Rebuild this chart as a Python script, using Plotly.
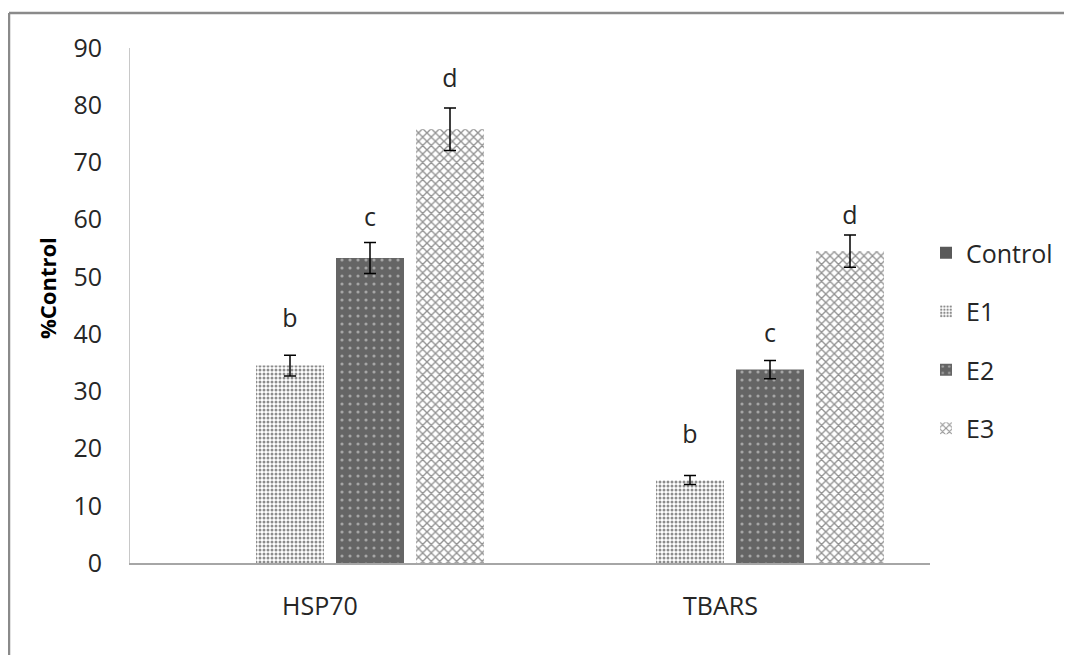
import plotly.graph_objects as go

categories = ["HSP70", "TBARS"]
series = ["Control", "E1", "E2", "E3"]
control = [0, 0]
e1 = [34.5, 14.5]
e2 = [53.3, 33.8]
e3 = [75.8, 54.5]
e1_err = [1.8, 0.8]
e2_err = [2.7, 1.6]
e3_err = [3.7, 2.8]
letters = ["b", "c", "d"]
e1_letter_y = [42.3, 22.0]
e2_letter_y = [60.0, 39.7]
e3_letter_y = [84.3, 60.3]

FONT = "Open Sans"
TXT = "#262626"
fig = go.Figure()

styles = {
    "Control": dict(color="#595959"),
    "E1": dict(color="#ffffff", pattern=dict(shape=".", fgcolor="#1a1a1a", bgcolor="#ffffff", size=4, solidity=0.45)),
    "E2": dict(color="#656565", pattern=dict(shape=".", fgcolor="#e8e8e8", bgcolor="#656565", size=8, solidity=0.12)),
    "E3": dict(color="#ffffff", pattern=dict(shape="x", fgcolor="#262626", bgcolor="#ffffff", size=6, solidity=0.4)),
}
values = {"Control": control, "E1": e1, "E2": e2, "E3": e3}
errs = {"Control": None, "E1": e1_err, "E2": e2_err, "E3": e3_err}

for s in series:
    err = errs[s]
    fig.add_trace(go.Bar(
        x=categories, y=values[s], name=s, offsetgroup=s, legendgroup=s,
        marker=dict(line=dict(width=0), **styles[s]),
        error_y=(dict(type="data", array=err, visible=True, color="#000000", thickness=1.5, width=6)
                 if err else dict(visible=False)),
    ))

letter_y = {"E1": e1_letter_y, "E2": e2_letter_y, "E3": e3_letter_y}
for s, lt in zip(["E1", "E2", "E3"], letters):
    fig.add_trace(go.Scatter(
        x=categories, y=letter_y[s], mode="text", text=[lt, lt], offsetgroup=s,
        textfont=dict(family=FONT, size=25, color=TXT), showlegend=False,
        hoverinfo="skip",
    ))

# page body has an 8px margin; screen coords = figure coords + 8
OFF = 8
W, H = 1064, 647
L, R, T, B = 122, 142, 40, 92
pw, ph = W - L - R, H - T - B

def px(xs):
    return (xs - OFF - L) / pw

def py(ys):
    return (H - B - (ys - OFF)) / ph

shapes = [
    dict(type="line", xref="paper", yref="paper", x0=px(9), x1=px(1080), y0=py(13), y1=py(13),
         line=dict(color="#8a8a8a", width=2.5)),
    dict(type="line", xref="paper", yref="paper", x0=px(9), x1=px(9), y0=py(13), y1=py(670),
         line=dict(color="#8a8a8a", width=2.5)),
]

annotations = [
    dict(text="<b>%Control</b>", xref="paper", yref="paper", x=px(47), y=py(288),
         textangle=-90, showarrow=False, font=dict(family=FONT, size=22, color="#000000"),
         xanchor="center", yanchor="middle"),
]
for c in categories:
    annotations.append(dict(text=c, x=c, xref="x", yref="paper", y=py(605), showarrow=False,
                            xshift=-10, yanchor="middle",
                            font=dict(family=FONT, size=25, color=TXT)))

fig.update_layout(
    width=W, height=H,
    margin=dict(l=L, r=R, t=T, b=B),
    paper_bgcolor="#ffffff", plot_bgcolor="#ffffff",
    barmode="group", scattermode="group", bargap=0.2, bargroupgap=0.15,
    font=dict(family=FONT, size=25, color=TXT),
    shapes=shapes, annotations=annotations,
    showlegend=True,
    legend=dict(x=px(926), y=py(230), xanchor="left", yanchor="top",
                font=dict(family=FONT, size=25, color=TXT),
                tracegroupgap=23, bgcolor="rgba(0,0,0,0)"),
    xaxis=dict(showline=True, linecolor="#a6a6a6", linewidth=1.5, ticks="",
               showticklabels=False, showgrid=False, zeroline=False),
    yaxis=dict(range=[0, 90], dtick=10, showline=True, linecolor="#c8c8c8", linewidth=1,
               ticks="", ticklabelstandoff=22, showgrid=False, zeroline=False),
)

fig.write_html("out.html")
